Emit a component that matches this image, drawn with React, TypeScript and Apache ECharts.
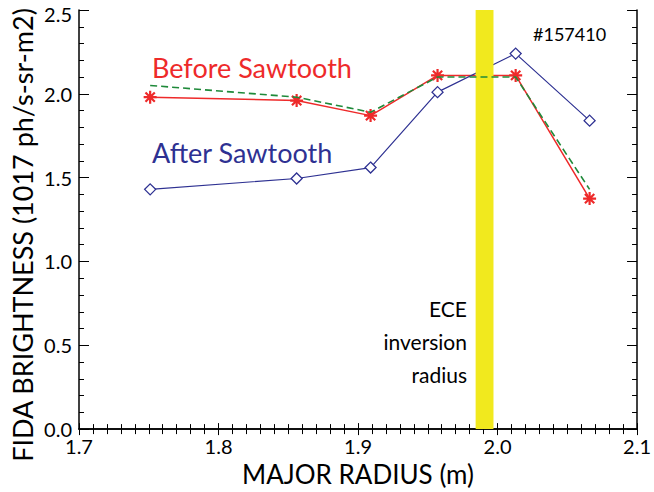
import React, { useEffect, useRef } from "react";
import * as echarts from "echarts";

const radius = [1.751, 1.856, 1.909, 1.957, 2.013, 2.066];
const beforeSawtooth = [1.98, 1.96, 1.87, 2.11, 2.11, 1.375];
const afterSawtooth = [1.43, 1.495, 1.56, 2.01, 2.24, 1.84];
const fitBefore = [2.05, 1.98, 1.89, 2.1, 2.1, 1.43];
const inversionBand = [1.9843, 1.9971];
const xTicks = [1.7, 2.1, 0.1];
const yTicks = [0, 2.5, 0.5];
const yTopLabel = "2.5";

const FONT = "Lato";
const RED = "#ee2a2a";
const NAVY = "#2e3192";
const GREEN = "#1f8a3a";
const YELLOW = "#f1e91e";

const asterisk =
  "path://M0,-6L0,6M-6,0L6,0M-4.3,-4.3L4.3,4.3M-4.3,4.3L4.3,-4.3";

export default function App() {
  const ref = useRef<HTMLDivElement>(null);
  useEffect(() => {
    if (!ref.current) return;
    const chart = echarts.init(ref.current, undefined, { renderer: "svg" });
    const pts = (ys: number[]) => radius.map((x, i) => [x, ys[i]]);
    const axisCommon = {
      axisLine: { show: true, lineStyle: { color: "#000", width: 1.5 } },
      splitLine: { show: false },
    };
    const xTick = {
      axisTick: { show: true, inside: true, length: 6, lineStyle: { color: "#000", width: 1 } },
      minorTick: { show: true, splitNumber: 10, length: 5, lineStyle: { color: "#000", width: 1 } },
    };
    const yTick = {
      axisTick: { show: true, inside: true, length: 10, lineStyle: { color: "#000", width: 1 } },
      minorTick: { show: true, splitNumber: 5, length: 5, lineStyle: { color: "#000", width: 1 } },
    };
    chart.setOption({
      animation: false,
      backgroundColor: "#fff",
      grid: { left: 79, right: 15, top: 10, bottom: 60, containLabel: false },
      xAxis: [
        {
          type: "value",
          min: xTicks[0],
          max: xTicks[1],
          interval: xTicks[2],
          ...axisCommon,
          ...xTick,
          axisLabel: {
            color: "#000",
            fontFamily: FONT,
            fontSize: 20,
            margin: 7,
            formatter: (v: number) => v.toFixed(1),
          },
          name: "MAJOR RADIUS (m)",
          nameLocation: "middle",
          nameGap: 15,
          nameTextStyle: { color: "#000", fontFamily: FONT, fontSize: 26 },
        },
        {
          type: "value",
          position: "top",
          min: xTicks[0],
          max: xTicks[1],
          interval: xTicks[2],
          ...axisCommon,
          ...xTick,
          axisLabel: { show: false },
        },
      ],
      yAxis: [
        {
          type: "value",
          min: yTicks[0],
          max: yTicks[1],
          interval: yTicks[2],
          ...axisCommon,
          ...yTick,
          axisLabel: {
            color: "#000",
            fontFamily: FONT,
            fontSize: 20,
            margin: 7,
            showMaxLabel: false,
            formatter: (v: number) => v.toFixed(1),
          },
        },
        {
          type: "value",
          position: "right",
          min: yTicks[0],
          max: yTicks[1],
          interval: yTicks[2],
          ...axisCommon,
          ...yTick,
          axisLabel: { show: false },
        },
      ],
      series: [
        {
          type: "line",
          name: "Before Sawtooth",
          z: 2,
          data: pts(beforeSawtooth),
          symbol: asterisk,
          symbolSize: 13,
          lineStyle: { color: RED, width: 1.5 },
          itemStyle: { color: RED, borderColor: RED, borderWidth: 2.2 },
        },
        {
          type: "line",
          name: "After Sawtooth",
          z: 2,
          data: pts(afterSawtooth),
          symbol: "diamond",
          symbolSize: [11, 11],
          lineStyle: { color: NAVY, width: 1.2 },
          itemStyle: { color: "#fff", borderColor: NAVY, borderWidth: 1.3 },
        },
        {
          type: "line",
          name: "Fit",
          z: 4,
          data: pts(fitBefore),
          showSymbol: false,
          symbol: "none",
          clip: false,
          lineStyle: { color: GREEN, width: 1.6, type: [7, 4] },
          markArea: {
            silent: true,
            z: 3,
            itemStyle: { color: YELLOW, opacity: 1 },
            data: [
              [
                { xAxis: inversionBand[0], yAxis: 2.535 },
                { xAxis: inversionBand[1], yAxis: 0 },
              ],
            ],
          },
        },
      ],
      graphic: [
        {
          type: "text",
          x: 72,
          y: 14,
          style: {
            text: yTopLabel,
            fill: "#000",
            font: `20px ${FONT}`,
            align: "right",
            verticalAlign: "middle",
          },
        },
        {
          type: "text",
          x: 22,
          y: 235,
          rotation: Math.PI / 2,
          style: {
            text: "FIDA BRIGHTNESS (1017 ph/s-sr-m2)",
            fill: "#000",
            font: `27px ${FONT}`,
            align: "center",
            verticalAlign: "middle",
          },
        },
        {
          type: "text",
          left: 152,
          top: 54,
          style: { text: "Before Sawtooth", fill: RED, font: `27px ${FONT}` },
        },
        {
          type: "text",
          left: 152,
          top: 139,
          style: { text: "After Sawtooth", fill: NAVY, font: `27px ${FONT}` },
        },
        {
          type: "text",
          left: 533,
          top: 25,
          style: { text: "#157410", fill: "#000", font: `18px ${FONT}` },
        },
        {
          type: "text",
          x: 467,
          y: 292,
          style: {
            text: "ECE\ninversion\nradius",
            fill: "#000",
            font: `21px ${FONT}`,
            align: "right",
            lineHeight: 33,
          },
        },
      ],
    });
    return () => chart.dispose();
  }, []);
  return (
    <div
      ref={ref}
      style={{ position: "absolute", left: 0, top: 0, width: 654, height: 492 }}
    />
  );
}
